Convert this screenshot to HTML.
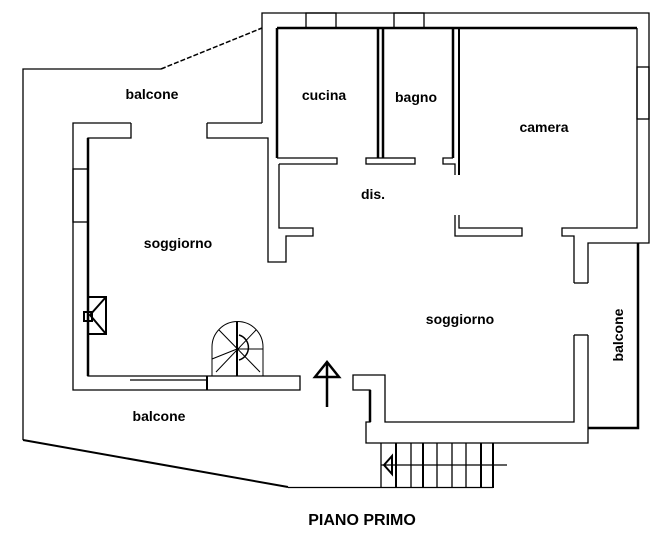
<!DOCTYPE html>
<html><head><meta charset="utf-8"><style>
html,body{margin:0;padding:0;background:#fff;}
svg{display:block}
text{font-family:"Liberation Sans",Arial,sans-serif;font-weight:bold;font-size:14px;fill:#000}
</style></head><body>
<svg width="671" height="537" viewBox="0 0 671 537" xmlns="http://www.w3.org/2000/svg">
<g fill="none" stroke="#000" stroke-width="1.3">
<!-- balcony outline -->
<polyline points="161,69 23,69 23,440"/>
<line x1="161" y1="69" x2="262" y2="28" stroke-dasharray="5,2" stroke-width="1.5"/>
<line x1="23" y1="440" x2="288" y2="487" stroke-width="2"/>
<line x1="288" y1="487.5" x2="493" y2="487.5"/>
<!-- outer walls top/right -->
<polyline points="262,123 262,13 649,13 649,243 588,243 588,283"/>
<polyline points="637,28 637,228 562,228 562,236 574,236 574,283"/>
<line x1="574" y1="283" x2="588" y2="283"/>
<line x1="277" y1="28" x2="637" y2="28" stroke-width="2.5"/>
<!-- top windows -->
<rect x="306" y="13" width="30" height="15"/>
<rect x="394" y="13" width="30" height="15"/>
<rect x="637" y="67" width="12" height="52"/>
<!-- left part -->
<polyline points="207,123 262,123"/>
<polyline points="207,123 207,138 268,138 268,262 286,262 286,236 313,236 313,228 279,228 279,164"/>
<polyline points="131,123 73,123 73,390 300,390 300,376 88,376 88,138 131,138 131,123"/>
<line x1="88" y1="138" x2="88" y2="376" stroke-width="2.5"/>
<rect x="73" y="169" width="15" height="53"/>
<line x1="130" y1="380" x2="207" y2="380"/>
<line x1="207" y1="376" x2="207" y2="390" stroke-width="2"/>
<!-- cucina -->
<line x1="277" y1="28" x2="277" y2="158" stroke-width="2.5"/>
<polyline points="277,158 337,158 337,164 279,164"/>
<line x1="378" y1="28" x2="378" y2="158" stroke-width="2.5"/>
<line x1="383" y1="28" x2="383" y2="158" stroke-width="2.5"/>
<rect x="366" y="158" width="49" height="6"/>
<line x1="453" y1="28" x2="453" y2="158" stroke-width="2.5"/>
<polyline points="453,158 443,158 443,164 455,164 455,175"/>
<line x1="459" y1="28" x2="459" y2="175" stroke-width="2"/>
<polyline points="455,215 455,236 522,236 522,228 459,228 459,215"/>
<!-- right soggiorno walls -->
<polyline points="574,335 574,422 385,422 385,375 353,375 353,390 370,390 370,422 366,422 366,443 588,443 588,335"/>
<line x1="574" y1="335" x2="588" y2="335"/>
<line x1="370" y1="390" x2="370" y2="422" stroke-width="2.5"/>
<polyline points="588,428 638,428 638,243" stroke-width="2.5"/>
<!-- stairs -->
<g>
<line x1="381" y1="443" x2="381" y2="488"/>
<line x1="396" y1="443" x2="396" y2="488" stroke-width="2"/>
<line x1="411" y1="443" x2="411" y2="488"/>
<line x1="423" y1="443" x2="423" y2="488" stroke-width="2"/>
<line x1="437" y1="443" x2="437" y2="488"/>
<line x1="452" y1="443" x2="452" y2="488"/>
<line x1="466" y1="443" x2="466" y2="488"/>
<line x1="481" y1="443" x2="481" y2="488" stroke-width="2"/>
<line x1="493" y1="443" x2="493" y2="488" stroke-width="2"/>
<line x1="381" y1="465" x2="507" y2="465"/>
<polygon points="384,465 392,456 392,474" stroke-width="2"/>
</g>
<!-- fireplace -->
<rect x="88" y="297" width="18" height="37" stroke-width="2"/>
<polyline points="106,297 90,315 106,334" stroke-width="2"/>
<rect x="84" y="312" width="8" height="9" stroke-width="2"/>
<!-- spiral stair -->
<path d="M212,376 L212,347 A25.5,25.5 0 0 1 263,347 L263,376" stroke-width="1"/>
<line x1="237" y1="322" x2="237" y2="376" stroke-width="2"/>
<line x1="237" y1="349" x2="263" y2="349" stroke-width="1"/>
<line x1="219" y1="330" x2="260" y2="372" stroke-width="1"/>
<line x1="256" y1="330" x2="216" y2="372" stroke-width="1"/>
<line x1="237" y1="349" x2="212" y2="359" stroke-width="1"/>
<path d="M239,335 A13,13 0 0 1 239,360" stroke-width="1.5"/>
<!-- north arrow -->
<line x1="327" y1="362" x2="327" y2="407" stroke-width="2.5"/>
<polygon points="327,362 315,377 339,377" stroke-width="2.5"/>
</g>
<text x="152" y="99" text-anchor="middle">balcone</text>
<text x="324" y="100" text-anchor="middle">cucina</text>
<text x="416" y="102" text-anchor="middle">bagno</text>
<text x="544" y="132" text-anchor="middle">camera</text>
<text x="373" y="199" text-anchor="middle">dis.</text>
<text x="178" y="248" text-anchor="middle">soggiorno</text>
<text x="460" y="324" text-anchor="middle">soggiorno</text>
<text x="159" y="421" text-anchor="middle">balcone</text>
<text transform="translate(623,335) rotate(-90)" text-anchor="middle">balcone</text>
<text x="362" y="525" text-anchor="middle" style="font-size:16px">PIANO PRIMO</text>
</svg>
</body></html>
